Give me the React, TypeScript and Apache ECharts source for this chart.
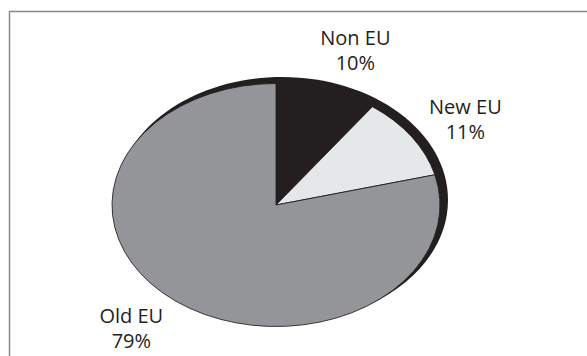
import React, { useEffect, useRef } from "react";
import * as echarts from "echarts";

// Data
const categories: string[] = ["Non EU", "New EU", "Old EU"];
const values: number[] = [10, 11, 79];

// Styles
const sliceColors: string[] = ["#231f20", "#e6e7e8", "#939598"];
const INK = "#231f20";
const FRAME = "#8a8a8a";

// Geometry (layout constants)
const CX = 276;
const CY = 205;
const RX = 164;
const RY = 121.5;
const LABEL_R = 1.35;
const LABEL_SHIFT_DEG = 3;

export default function App() {
  const ref = useRef<HTMLDivElement | null>(null);

  useEffect(() => {
    if (!ref.current) return;
    const chart = echarts.init(ref.current, undefined, { renderer: "svg" });
    const total = values.reduce((a, b) => a + b, 0);

    const renderItem = (params: any, api: any) => {
      const idx = params.dataIndex;
      const v = api.value(1) as number;
      let cum = 0;
      for (let i = 0; i < idx; i++) cum += values[i];
      const a0 = -Math.PI / 2 + (cum / total) * Math.PI * 2;
      const a1 = -Math.PI / 2 + ((cum + v) / total) * Math.PI * 2;
      const mid = ((cum + v / 2) / total) * 360 + LABEL_SHIFT_DEG;
      const midRad = (mid * Math.PI) / 180;
      const lx = CX + RX * LABEL_R * Math.sin(midRad);
      const ly = CY - RY * LABEL_R * Math.cos(midRad) - 1.5;
      const pct = Math.round((v / total) * 100);

      const children: any[] = [];
      if (idx === 0) {
        children.push({
          type: "ellipse",
          shape: { cx: CX + 6, cy: CY - 5, rx: RX + 2, ry: RY + 1.5 },
          style: { fill: INK },
        });
      }
      children.push({
        type: "sector",
        x: CX,
        y: CY,
        scaleY: RY / RX,
        shape: { cx: 0, cy: 0, r0: 0, r: RX, startAngle: a0, endAngle: a1, clockwise: true },
        style: { fill: sliceColors[idx], stroke: INK, lineWidth: 1, strokeNoScale: true },
      });
      children.push({
        type: "text",
        x: lx,
        y: ly,
        style: {
          text: categories[idx] + "\n" + pct + "%",
          fill: INK,
          fontSize: 20,
          fontFamily: "'Open Sans', 'Noto Sans', sans-serif",
          align: "center",
          verticalAlign: "middle",
          lineHeight: 25,
        },
      });
      return { type: "group", children };
    };

    chart.setOption({
      animation: false,
      backgroundColor: "#ffffff",
      graphic: [
        {
          type: "rect",
          shape: { x: 9.5, y: 11.5, width: 700, height: 500 },
          style: { fill: "none", stroke: FRAME, lineWidth: 1.5 },
          silent: true,
        },
      ],
      series: [
        {
          type: "custom",
          coordinateSystem: "none",
          renderItem,
          data: categories.map((c, i) => [i, values[i]]),
          silent: true,
        },
      ],
    });

    return () => chart.dispose();
  }, []);

  return (
    <div
      ref={ref}
      style={{ position: "fixed", left: 0, top: 0, width: 587, height: 356, background: "#fff" }}
    />
  );
}
